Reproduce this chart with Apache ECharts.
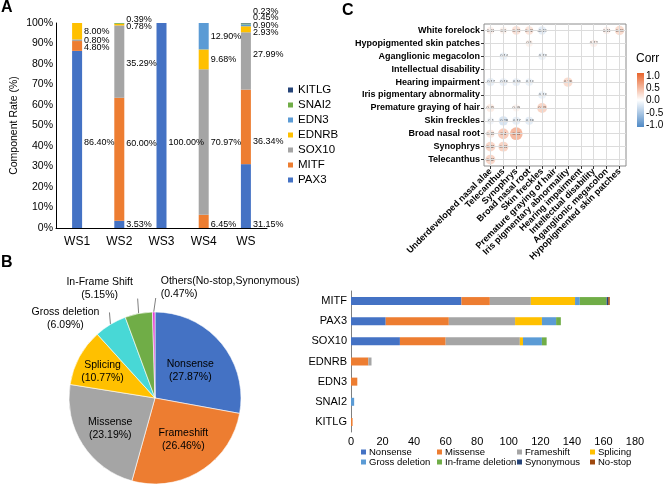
<!DOCTYPE html>
<html><head><meta charset="utf-8">
<script src="https://cdn.jsdelivr.net/npm/echarts@6/dist/echarts.min.js"></script>
<style>html,body{margin:0;padding:0;background:#fff}#c{width:669px;height:484px}</style>
</head><body><div id="c"></div>
<script>
// ---------- Panel A data ----------
const wsCategories = ['WS1', 'WS2', 'WS3', 'WS4', 'WS'];
const geneLegendA = ['KITLG', 'SNAI2', 'EDN3', 'EDNRB', 'SOX10', 'MITF', 'PAX3'];
const pctPAX3  = [86.40, 3.53, 100.00, 0, 31.15];
const pctMITF  = [4.80, 60.00, 0, 6.45, 36.34];
const pctSOX10 = [0.80, 35.29, 0, 70.97, 27.99];
const pctEDNRB = [8.00, 0.78, 0, 9.68, 2.93];
const pctEDN3  = [0, 0, 0, 12.90, 0.90];
const pctSNAI2 = [0, 0.39, 0, 0, 0.45];
const pctKITLG = [0, 0, 0, 0, 0.23];

// ---------- Panel B pie data ----------
const mutTypes = ['Nonsense', 'Frameshift', 'Missense', 'Splicing', 'Gross deletion', 'In-Frame Shift', 'Others(No-stop,Synonymous)'];
const mutPct = [27.87, 26.46, 23.19, 10.77, 6.09, 5.15, 0.47];

// ---------- Panel B bar data ----------
const genesB = ['MITF', 'PAX3', 'SOX10', 'EDNRB', 'EDN3', 'SNAI2', 'KITLG'];
const cntNonsense   = [70, 22, 31, 0, 0, 0, 0];
const cntMissense   = [18, 40, 29, 11, 4, 0, 1];
const cntFrameshift = [26, 42, 47, 2, 0, 0, 0];
const cntSplicing   = [28, 17, 2, 0, 0, 0, 0];
const cntGrossDel   = [3, 9, 12, 0, 0, 2, 0];
const cntInframeDel = [17, 3, 3, 0, 0, 0, 0];
const cntSynonymous = [1, 0, 0, 0, 0, 0, 0];
const cntNoStop     = [1, 0, 0, 0, 0, 0, 0];

// ---------- Panel C data ----------
const corrRows = ['White forelock', 'Hypopigmented skin patches', 'Aganglionic megacolon', 'Intellectual disability', 'Hearing impairment', 'Iris pigmentary abnormality', 'Premature graying of hair', 'Skin freckles', 'Broad nasal root', 'Synophrys', 'Telecanthus'];
const corrCols = ['Underdeveloped nasal alae', 'Telecanthus', 'Synophrys', 'Broad nasal root', 'Skin freckles', 'Premature graying of hair', 'Iris pigmentary abnormality', 'Hearing impairment', 'Intellectual disability', 'Aganglionic megacolon', 'Hypopigmented skin patches'];
const corrMatrix = [
  [0.11, 0.1, 0.23, 0.22, -0.19, null, null, null, null, 0.11, 0.28],
  [null, null, null, 0.1, null, null, null, null, 0.12, null, null],
  [null, -0.14, null, null, -0.13, null, null, null, null, null, null],
  [null, null, null, null, null, null, null, null, null, null, null],
  [-0.17, -0.16, -0.16, -0.14, null, null, 0.28, null, null, null, null],
  [null, null, null, null, -0.14, null, null, null, null, null, null],
  [0.15, null, 0.09, null, 0.33, null, null, null, null, null, null],
  [-0.1, -0.28, -0.17, -0.18, null, null, null, null, null, null, null],
  [0.18, 0.4, 0.56, null, null, null, null, null, null, null, null],
  [0.32, 0.33, null, null, null, null, null, null, null, null, null],
  [0.32, null, null, null, null, null, null, null, null, null, null]
];
const corrScaleLabels = ['1.0', '0.5', '0.0', '-0.5', '-1.0'];

// ---------- styles ----------
const FONT = 'Liberation Sans, Arial, Helvetica, sans-serif';
const colA = { PAX3: '#4472C4', MITF: '#ED7D31', SOX10: '#A5A5A5', EDNRB: '#FFC000', EDN3: '#5B9BD5', SNAI2: '#70AD47', KITLG: '#264478' };
const pieColors = ['#4472C4', '#ED7D31', '#A5A5A5', '#FFC000', '#48D8D6', '#70AD47', '#E33FD0'];
const labelShiftA = {
  PAX3: [3, 0, 17, 0, 28], MITF: [2, -16, 0, 3, 15], SOX10: [0, 2, 0, 0, -6],
  EDNRB: [0, 2, 0, 0, 3], EDN3: [0, 0, 0, 0, 0], SNAI2: [0, -4, 0, 0, -6], KITLG: [0, 0, 0, 0, -12]
};
const pieInsideShift = [[0, 2], [4, 3], [-6, 6], [-12, -4]];

const stackA = [['PAX3', pctPAX3], ['MITF', pctMITF], ['SOX10', pctSOX10], ['EDNRB', pctEDNRB], ['EDN3', pctEDN3], ['SNAI2', pctSNAI2], ['KITLG', pctKITLG]];
const seriesA = stackA.map(([name, arr]) => ({
  name, type: 'bar', stack: 'A', xAxisIndex: 0, yAxisIndex: 0, barWidth: 10,
  itemStyle: { color: colA[name] },
  data: arr.map((v, i) => ({ value: v, label: { offset: [0, labelShiftA[name][i]] } })),
  label: {
    show: true, position: 'right', distance: 2, fontSize: 9, color: '#000', fontFamily: FONT,
    formatter: p => (p.value > 0 ? p.value.toFixed(2) + '%' : '')
  }
}));

const corrData = [];
corrMatrix.forEach((row, r) => row.forEach((v, c) => { if (v !== null) corrData.push([c, r, v]); }));

const gridLineSeries = {
  name: 'corrGrid', type: 'scatter', xAxisIndex: 1, yAxisIndex: 1, data: [], z: 1, silent: true,
  markLine: {
    silent: true, symbol: ['none', 'none'], label: { show: false },
    lineStyle: { color: '#dcdcdc', width: 1, type: 'solid' },
    data: corrCols.map((c, i) => ({ xAxis: i })).concat(corrRows.map((r, i) => ({ yAxis: i })))
  }
};
const corrSeries = {
  name: 'corr', type: 'scatter', xAxisIndex: 1, yAxisIndex: 1, z: 3,
  data: corrData,
  symbolSize: v => 6 + 12 * Math.abs(v[2]),
  label: { show: true, position: 'inside', fontSize: 4, color: '#222', formatter: p => String(p.value[2]) }
};

const pieSeries = {
  name: 'mutPie', type: 'pie', center: [155, 398], radius: 86, startAngle: 90, clockwise: true,
  avoidLabelOverlap: false,
  itemStyle: { borderColor: '#fff', borderWidth: 0.6 },
  label: { show: true, position: 'inside', fontSize: 10.5, color: '#000', fontFamily: FONT, lineHeight: 13,
    formatter: p => p.name + '\n(' + p.value.toFixed(2) + '%)' },
  labelLine: { show: true, length: 8, length2: 0, lineStyle: { color: '#7f7f7f', width: 1 } },
  data: mutTypes.map((n, i) => {
    const d = { name: n, value: mutPct[i], itemStyle: { color: pieColors[i] } };
    if (i >= 4) d.label = { position: 'outside' };
    return d;
  }),
  labelLayout: function (p) {
    const i = p.dataIndex;
    if (i < 4) {
      const r = p.labelRect;
      return { x: r.x + r.width / 2 + pieInsideShift[i][0], y: r.y + r.height / 2 + pieInsideShift[i][1], align: 'center', verticalAlign: 'middle' };
    }
    if (!p.labelLinePoints) return {};
    const s = p.labelLinePoints[0];
    if (i === 4) {
      const t = [s[0] - 1, s[1] - 12];
      return { x: t[0] - 44, y: t[1] + 6, align: 'center', verticalAlign: 'middle', labelLinePoints: [s, t, t] };
    }
    if (i === 5) {
      const t = [s[0] - 1, s[1] - 15];
      return { x: t[0] - 38, y: t[1] - 10, align: 'center', verticalAlign: 'middle', labelLinePoints: [s, t, t] };
    }
    const t = [s[0] + 2, s[1] - 14];
    return { x: t[0] + 5, y: t[1] - 10, align: 'left', verticalAlign: 'middle', labelLinePoints: [s, t, t] };
  }
};

const colB = ['#4472C4', '#ED7D31', '#A5A5A5', '#FFC000', '#5B9BD5', '#70AD47', '#264478', '#9E480E'];
const seriesBdef = [['Nonsense', cntNonsense], ['Missense', cntMissense], ['Frameshift', cntFrameshift], ['Splicing', cntSplicing],
  ['Gross deletion', cntGrossDel], ['In-frame deletion', cntInframeDel], ['Synonymous', cntSynonymous], ['No-stop', cntNoStop]];
const seriesB = seriesBdef.map(([name, arr], k) => ({
  name, type: 'bar', stack: 'B', xAxisIndex: 2, yAxisIndex: 2, barWidth: 8,
  itemStyle: { color: colB[k] }, data: arr
}));

const legendBase = { icon: 'rect', itemWidth: 5, itemHeight: 5, padding: 0, selectedMode: false,
  textStyle: { fontSize: 11.5, color: '#000', fontFamily: FONT } };
const legBCols = [[361, 0, 4], [437, 1, 5], [517, 2, 6], [590, 3, 7]];
const legendsB = legBCols.map(([left, a, b]) => Object.assign({}, legendBase, {
  orient: 'vertical', left, top: 447, itemGap: 0,
  textStyle: { fontSize: 9.5, color: '#000', fontFamily: FONT, lineHeight: 9, padding: [0, 0, 0, -2] },
  data: [seriesBdef[a][0], seriesBdef[b][0]]
}));

const chart = echarts.init(document.getElementById('c'), null, { renderer: 'canvas' });
chart.setOption({
  animation: false,
  textStyle: { fontFamily: FONT },
  grid: [
    { left: 56, top: 23, width: 211, height: 205 },
    { left: 484, top: 24, width: 142, height: 142, show: true, borderColor: '#8c8c8c', borderWidth: 1, backgroundColor: '#fff' },
    { left: 351, top: 291, width: 284, height: 141 }
  ],
  xAxis: [
    { type: 'category', gridIndex: 0, data: wsCategories, axisLine: { lineStyle: { color: '#000' } }, axisTick: { show: false },
      axisLabel: { fontSize: 12, color: '#000', margin: 8 } },
    { type: 'category', gridIndex: 1, data: corrCols, axisLine: { show: false }, splitLine: { show: false },
      axisTick: { show: true, alignWithLabel: true, length: 3, lineStyle: { color: '#333' } },
      axisLabel: { rotate: 45, interval: 0, fontSize: 9, fontWeight: 'bold', color: '#000', margin: 4 } },
    { type: 'value', gridIndex: 2, min: 0, max: 180, interval: 20, axisLine: { show: false }, axisTick: { show: false },
      splitLine: { show: false }, axisLabel: { fontSize: 11, color: '#000', margin: 4 } }
  ],
  yAxis: [
    { type: 'value', gridIndex: 0, min: 0, max: 100, interval: 10, axisLine: { show: true, lineStyle: { color: '#000' } },
      axisTick: { show: false }, splitLine: { show: false },
      axisLabel: { formatter: '{value}%', fontSize: 10.5, color: '#000', margin: 3 },
      name: 'Component Rate (%)', nameLocation: 'middle', nameRotate: 90, nameGap: 36,
      nameTextStyle: { fontSize: 10.5, color: '#000' } },
    { type: 'category', gridIndex: 1, data: corrRows, inverse: true, axisLine: { show: false }, splitLine: { show: false },
      axisTick: { show: true, alignWithLabel: true, length: 3, lineStyle: { color: '#333' } },
      axisLabel: { fontSize: 9, fontWeight: 'bold', color: '#000', margin: 4, interval: 0 } },
    { type: 'category', gridIndex: 2, data: genesB, inverse: true, axisLine: { show: true, lineStyle: { color: '#7f7f7f' } },
      axisTick: { show: false }, axisLabel: { fontSize: 11, color: '#000', margin: 4 } }
  ],
  visualMap: [{ show: false, type: 'continuous', min: -1, max: 1, dimension: 2, seriesIndex: 8,
    inRange: { color: ['#4F8AC6', '#FFFFFF', '#E8642C'] } }],
  legend: [Object.assign({}, legendBase, { orient: 'vertical', left: 288, top: 83, itemGap: 1,
    textStyle: { fontSize: 11.5, color: '#000', fontFamily: FONT, lineHeight: 14 }, data: geneLegendA })].concat(legendsB),
  series: seriesA.concat([gridLineSeries, corrSeries, pieSeries]).concat(seriesB),
  graphic: [
    { type: 'text', left: 1, top: 0, style: { text: 'A', fontSize: 16, fontWeight: 'bold', fill: '#000', fontFamily: FONT } },
    { type: 'text', left: 1, top: 255, style: { text: 'B', fontSize: 16, fontWeight: 'bold', fill: '#000', fontFamily: FONT } },
    { type: 'text', left: 342, top: 3, style: { text: 'C', fontSize: 16, fontWeight: 'bold', fill: '#000', fontFamily: FONT } },
    { type: 'text', left: 636, top: 53, style: { text: 'Corr', fontSize: 12, fill: '#000', fontFamily: FONT } },
    { type: 'rect', shape: { x: 637, y: 73, width: 7, height: 54 },
      style: { fill: new echarts.graphic.LinearGradient(0, 0, 0, 1, [
        { offset: 0, color: '#E8642C' }, { offset: 0.5, color: '#FFFFFF' }, { offset: 1, color: '#4F8AC6' }]) } }
  ].concat(corrScaleLabels.map((t, i) => ({
    type: 'text', x: 646, y: 76 + i * 12.25,
    style: { text: t, fontSize: 10, fill: '#000', fontFamily: FONT, textVerticalAlign: 'middle', textAlign: 'left' }
  })))
});
</script></body></html>
